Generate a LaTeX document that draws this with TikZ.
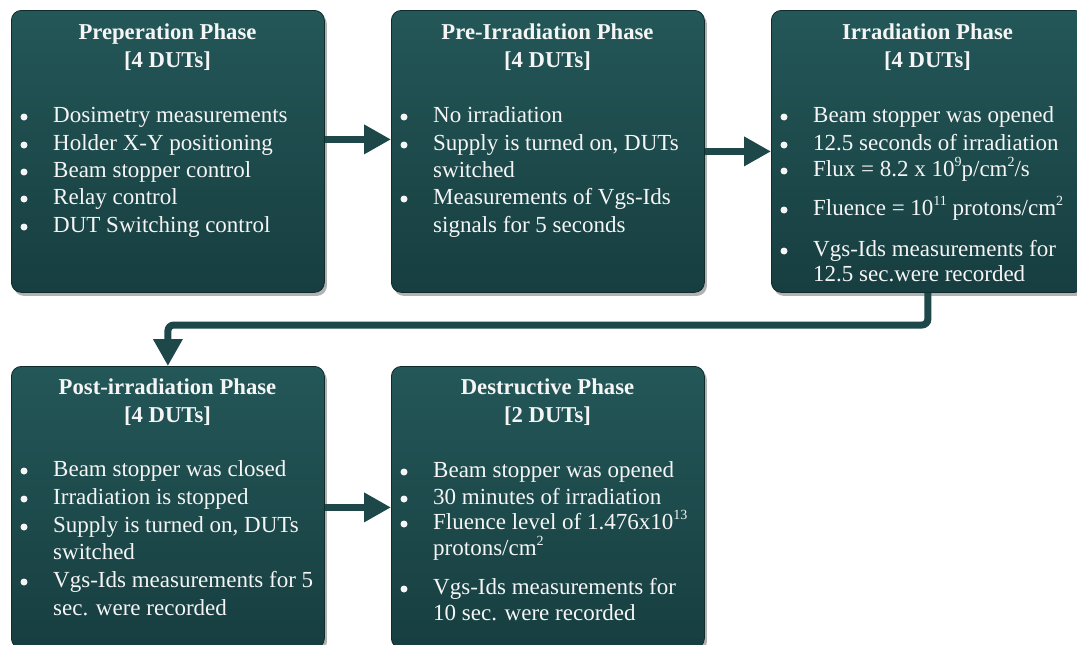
\documentclass[tikz,border=0pt]{standalone}
\usepackage{fontspec}
\setmainfont{Liberation Serif}
\usetikzlibrary{arrows.meta,shadows}
\definecolor{boxtop}{HTML}{245758}
\definecolor{boxbot}{HTML}{173E40}
\definecolor{boxline}{HTML}{0F2B2C}
\definecolor{arrowc}{HTML}{1D4748}
\definecolor{txt}{HTML}{F5F5F5}
\newcounter{lnc}
\newcommand{\ttlline}[3]{\stepcounter{lnc}\node[ttl] (t\thelnc) at (#1,#2) {#3};}
\newcommand{\plainline}[3]{\stepcounter{lnc}\node[itm] (t\thelnc) at (#1+42,#2) {#3};}
\newcommand{\bulline}[3]{\fill[txt] (#1+13,#2-5) circle (3.5);\plainline{#1}{#2}{#3}}
\newcommand{\myexp}[1]{\raisebox{0.42em}{\fontsize{14}{14}\selectfont #1}}
\begin{document}
\begin{tikzpicture}[x=1pt,y=-1pt,
  phase/.style={draw=boxline, line width=0.8pt, rounded corners=10pt,
    top color=boxtop, bottom color=boxbot,
    minimum width=313pt, minimum height=282pt, anchor=north west, inner sep=0pt,
    drop shadow={shadow xshift=2.5pt, shadow yshift=-3.5pt, opacity=0.3, fill=black}},
  ttl/.style={text=txt, font=\fontsize{22.7}{27}\selectfont\bfseries, anchor=base, inner sep=0pt},
  itm/.style={text=txt, font=\fontsize{23}{27}\selectfont, anchor=base west, inner sep=0pt},
  flow/.style={draw=arrowc, line width=7pt, -{Triangle[length=27pt,width=28pt]}}
]
\useasboundingbox (0,0) rectangle (1077,645);
\clip (0,0) rectangle (1077,645);

% boxes
\node[phase] (b1) at (11,10) {};
\node[phase] (b2) at (391,10) {};
\node[phase] (b3) at (771,10) {};
\node[phase] (b4) at (11,366) {};
\node[phase] (b5) at (391,366) {};

% connectors
\draw[flow] ([yshift=12pt]b1.east) -- ([yshift=12pt]b1.east -| b2.west);
\draw[flow] (b2.east) -- (b3.west);
\draw[flow] (b4.east) -- (b5.west);
\draw[flow, rounded corners=6pt] (b3.south) -- (b3.south |- 0,325) -| (b4.north);

% box 1
\ttlline{167.5}{39}{Preperation Phase}
\ttlline{167.5}{67}{[4 DUTs]}
\bulline{11}{122}{Dosimetry measurements}
\bulline{11}{150}{Holder X-Y positioning}
\bulline{11}{177}{Beam stopper control}
\bulline{11}{204}{Relay control}
\bulline{11}{232}{DUT Switching control}

% box 2
\ttlline{547.5}{39}{Pre-Irradiation Phase}
\ttlline{547.5}{67}{[4 DUTs]}
\bulline{391}{122}{No irradiation}
\bulline{391}{150}{Supply is turned on, DUTs}
\plainline{391}{177}{switched}
\bulline{391}{204}{Measurements of Vgs-Ids}
\plainline{391}{232}{signals for 5 seconds}

% box 3
\ttlline{927.5}{39}{Irradiation Phase}
\ttlline{927.5}{67}{[4 DUTs]}
\bulline{771}{122}{Beam stopper was opened}
\bulline{771}{150}{12.5 seconds of irradiation}
\bulline{771}{176}{Flux = 8.2 x 10\myexp{9}p/cm\myexp{2}/s}
\bulline{771}{215}{Fluence = 10\myexp{11} protons/cm\myexp{2}}
\bulline{771}{256}{Vgs-Ids measurements for}
\plainline{771}{281}{12.5 sec.were recorded}

% box 4
\ttlline{167.5}{394}{Post-irradiation Phase}
\ttlline{167.5}{422}{[4 DUTs]}
\bulline{11}{476}{Beam stopper was closed}
\bulline{11}{504}{Irradiation is stopped}
\bulline{11}{532}{Supply is turned on, DUTs}
\plainline{11}{559}{switched}
\bulline{11}{587}{Vgs-Ids measurements for 5}
\plainline{11}{615}{sec. were recorded}

% box 5
\ttlline{547.5}{394}{Destructive Phase}
\ttlline{547.5}{422}{[2 DUTs]}
\bulline{391}{477}{Beam stopper was opened}
\bulline{391}{504}{30 minutes of irradiation}
\bulline{391}{529}{Fluence level of 1.476x10\myexp{13}}
\plainline{391}{555}{protons/cm\myexp{2}}
\bulline{391}{594}{Vgs-Ids measurements for}
\plainline{391}{620}{10 sec. were recorded}
\end{tikzpicture}
\end{document}
